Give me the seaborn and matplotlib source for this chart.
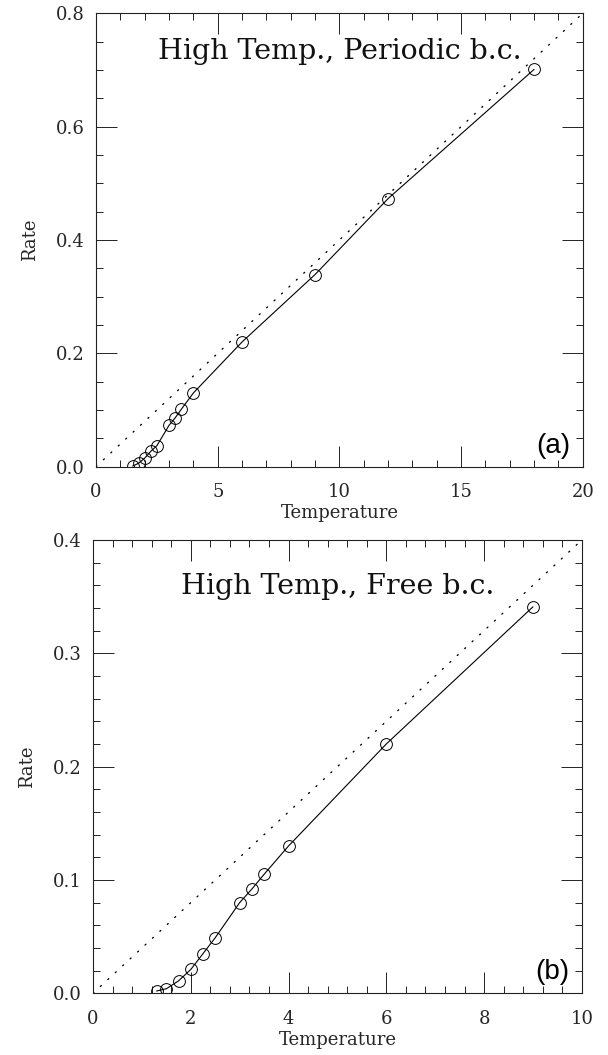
import numpy as np
import pandas as pd
import matplotlib
matplotlib.use("Agg")
import matplotlib.pyplot as plt
from matplotlib.ticker import MultipleLocator, FormatStrFormatter
import seaborn as sns

# ---- data ----
temp_a = [1.5, 1.75, 2.0, 2.25, 2.5, 3.0, 3.25, 3.5, 4.0, 6.0, 9.0, 12.0, 18.0]
rate_a = [0.001, 0.006, 0.015, 0.027, 0.037, 0.073, 0.086, 0.101, 0.130, 0.220, 0.339, 0.473, 0.701]

temp_b = [1.3, 1.5, 1.75, 2.0, 2.25, 2.5, 3.0, 3.25, 3.5, 4.0, 6.0, 9.0]
rate_b = [0.002, 0.004, 0.011, 0.021, 0.035, 0.049, 0.080, 0.092, 0.105, 0.130, 0.220, 0.341]

ref_temp_a = [0.0, 20.0]
ref_rate_a = [0.0, 0.8]
ref_temp_b = [0.0, 10.0]
ref_rate_b = [0.0, 0.4]

title_a = "High Temp., Periodic b.c."
title_b = "High Temp., Free b.c."
xlabel = "Temperature"
ylabel = "Rate"

sns.set_style("ticks")
plt.rcParams["font.family"] = ["DejaVu Serif"]
plt.rcParams["axes.linewidth"] = 0.8
plt.rcParams["axes.edgecolor"] = "#222222"

fig = plt.figure(figsize=(6.08, 10.55), dpi=100)
ax_a = fig.add_axes([0.158, 0.5577, 0.8005, 0.4297])
ax_b = fig.add_axes([0.153, 0.0585, 0.804, 0.4297])


def panel(ax, T, R, rT, rR, title, tag, title_y, xlim, ylim, xmaj, xmin, ymaj, ymin, yfmt):
    sns.lineplot(x=rT, y=rR, ax=ax, color="black", lw=1.0,
                 linestyle=(0, (0.8, 6.5)), dash_capstyle="round")
    sns.lineplot(x=T, y=R, ax=ax, color="black", lw=0.8, marker="o",
                 markersize=8.5, markerfacecolor="none", markeredgecolor="black",
                 markeredgewidth=0.7)
    ax.set_xlim(*xlim)
    ax.set_ylim(*ylim)
    ax.xaxis.set_major_locator(MultipleLocator(xmaj))
    ax.xaxis.set_minor_locator(MultipleLocator(xmin))
    ax.yaxis.set_major_locator(MultipleLocator(ymaj))
    ax.yaxis.set_minor_locator(MultipleLocator(ymin))
    ax.yaxis.set_major_formatter(FormatStrFormatter(yfmt))
    ax.xaxis.set_major_formatter(FormatStrFormatter("%d"))
    ax.tick_params(which="both", direction="in", top=True, right=True,
                   width=0.7, color="#222222")
    ax.tick_params(which="major", length=15, labelsize=13)
    ax.tick_params(axis="x", which="major", pad=12)
    ax.tick_params(axis="y", which="major", pad=8)
    ax.tick_params(which="minor", length=5)
    ax.set_xlabel(xlabel, fontsize=13, labelpad=2)
    ax.set_ylabel(ylabel, fontsize=13, labelpad=12)
    ax.text(0.5, title_y, title, transform=ax.transAxes, ha="center", va="center",
            fontsize=20.5, color="#111111")
    ax.text(0.94, 0.046, tag, transform=ax.transAxes, ha="center", va="center",
            fontsize=20, family="Liberation Sans", color="black")


panel(ax_a, temp_a, rate_a, ref_temp_a, ref_rate_a, title_a, "(a)", 0.915,
      (0, 20), (0, 0.8), 5, 1, 0.2, 0.05, "%.1f")
panel(ax_b, temp_b, rate_b, ref_temp_b, ref_rate_b, title_b, "(b)", 0.897,
      (0, 10), (0, 0.4), 2, 0.4, 0.1, 0.02, "%.1f")

fig.savefig("out.png", dpi=100, facecolor="white")
